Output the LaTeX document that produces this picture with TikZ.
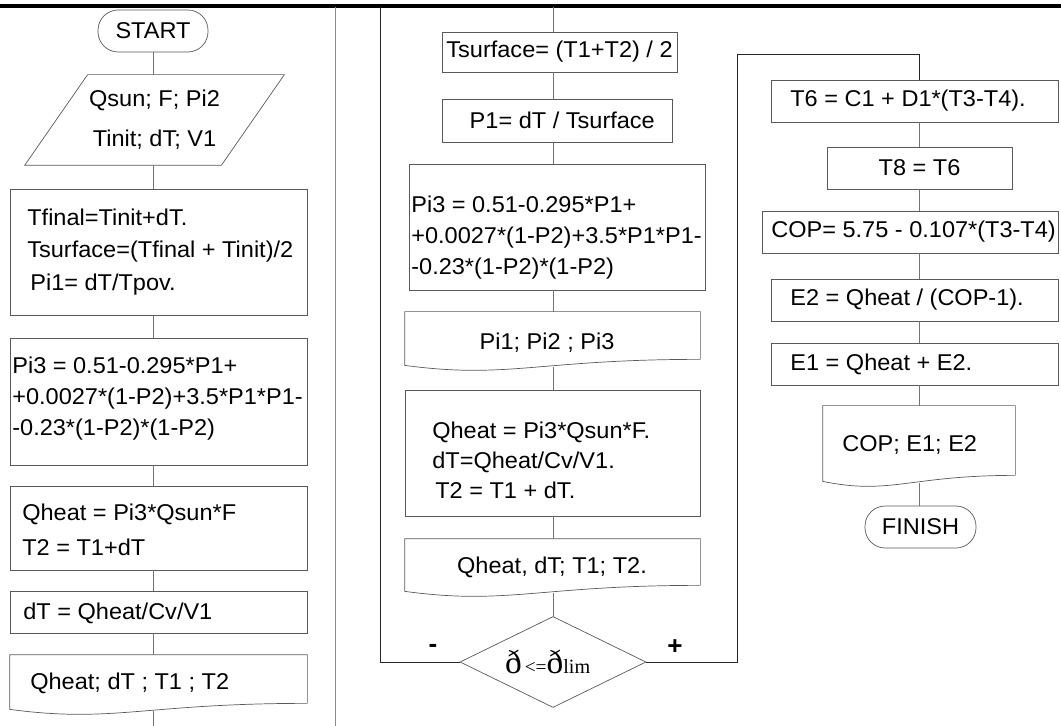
\documentclass[tikz,border=0pt]{standalone}
\usepackage{fontspec}
\setmainfont{Liberation Sans}[FakeStretch=1.03]
\newfontfamily\serfont{Liberation Serif}
\usetikzlibrary{calc}

\tikzset{
  sz/.style 2 args={minimum width=#1*0.2mm, minimum height=#2*0.2mm},
  outl/.style={draw=black!65},
  blk/.style={outl, inner sep=0pt},
  term/.style={blk, rounded corners=11.5pt},
  txt/.style={inner sep=0pt, font=\fontsize{13}{#1}\selectfont, align=left},
  txt/.default=17.5pt,
  flow/.style={black!55},
  loopline/.style={black!85},
}

\begin{document}
\begin{tikzpicture}[x=0.2mm, y=-0.2mm, font=\fontsize{13}{17.5}\selectfont]
	\useasboundingbox (0,0) rectangle (1061,726);
	\draw[line width=2pt] (0,6) -- (1061,6);
	\draw[black!45] (335,7) -- (335,726);
	
	\coordinate (ca) at (153,0);
	\coordinate (cb) at (553,0);
	\coordinate (cc) at (919,0);
	
	% left column
	\node[term, sz={110}{42}] (start) at (153,31) {START};
	\node[sz={196}{90}, inner sep=0pt, align=center, font=\fontsize{13}{22.7}\selectfont] (inp) at (154.5,120) {Qsun; F; Pi2\\Tinit; dT; V1};
	\draw[outl] ($(inp.south west)+(-31.5,0)$) -- ($(inp.north west)+(31.5,0)$) -- ($(inp.north east)+(31.5,0)$) -- ($(inp.south east)+(-31.5,0)$) -- cycle;
	
	\node[blk, sz={297}{126}] (calc1) at (158.5,252) {};
	\node[txt=18.7pt, anchor=west] (calc1t) at (27,252) {Tfinal=Tinit+dT.\\Tsurface=(Tfinal + Tinit)/2\\\hspace{1.7pt}Pi1= dT/Tpov.};
	
	\node[blk, sz={297}{127}] (pi3a) at (158.5,401.5) {};
	\node[txt=17.6pt, anchor=west] (pi3at) at (12,399) {Pi3 = 0.51-0.295*P1+\\+0.0027*(1-P2)+3.5*P1*P1-\\-0.23*(1-P2)*(1-P2)};
	
	\node[blk, sz={297}{84}] (qha) at (158.5,528) {};
	\node[txt=19.8pt, anchor=west] (qhat) at (22,530) {Qheat = Pi3*Qsun*F\\T2 = T1+dT};
	
	\node[blk, sz={297}{42}] (dta) at (158.5,612) {};
	\node[txt, anchor=west] (dtat) at (23,613) {dT = Qheat/Cv/V1};
	
	\node[sz={297}{48}, inner sep=0pt] (outa) at (158.5,679) {};
	\node[txt, anchor=west] (outat) at (30,683) {Qheat; dT ; T1 ; T2};
	\coordinate (enda) at (153,726);
	
	% middle column
	\coordinate (topb) at (553,7);
	\node[blk, sz={235}{40}] (ts) at (559.5,52) {Tsurface= (T1+T2) / 2};
	\node[blk, sz={230}{43}] (p1) at (557,120.5) {\hspace{6pt}P1= dT / Tsurface};
	
	\node[blk, sz={296}{126}] (pi3b) at (557,227) {};
	\node[txt=17.6pt, anchor=west] (pi3bt) at (411,238) {Pi3 = 0.51-0.295*P1+\\+0.0027*(1-P2)+3.5*P1*P1-\\-0.23*(1-P2)*(1-P2)};
	
	\node[sz={295}{47}, inner sep=0pt] (outb) at (552.5,335.5) {};
	\node[txt] (outbt) at (547,343) {Pi1; Pi2 ; Pi3};
	
	\node[blk, sz={295}{126}] (qhb) at (552.5,453) {};
	\node[txt=17pt, anchor=west] (qhbt) at (432,460) {Qheat = Pi3*Qsun*F.\\dT=Qheat/Cv/V1.\\\hspace{1.7pt}T2 = T1 + dT.};
	
	\node[sz={295}{46}, inner sep=0pt] (outc) at (552.5,562) {};
	\node[txt] (outct) at (552,567) {Qheat, dT; T1; T2.};
	
	\node[sz={185}{90}, inner sep=0pt, font=\serfont] (dec) at (553,662)
	{\hspace{-6pt}{\fontsize{19}{19}\selectfont ð}\,{\fontsize{11}{11}\selectfont <=}{\fontsize{19}{19}\selectfont ð}{\fontsize{11.5}{11.5}\selectfont lim}};
	\draw[outl] (dec.north) -- (dec.east) -- (dec.south) -- (dec.west) -- cycle;
	\node[font=\bfseries\Large] (minus) at (433,648) {-};
	\node[font=\bfseries\Large] (plus) at (675,647) {+};
	
	\coordinate (loopl) at (380,7);
	\coordinate (loopr) at (737,54);
	
	% right column
	\node[blk, sz={287}{42}] (t6) at (914.5,101) {};
	\node[txt, anchor=west] (t6t) at (790,101) {T6 = C1 + D1*(T3-T4).};
	\node[blk, sz={185}{42}] (t8) at (919.5,168) {T8 = T6};
	\node[blk, sz={296}{42}] (cop) at (910,232) {};
	\node[txt, anchor=west] (copt) at (771,232) {COP= 5.75 - 0.107*(T3-T4)};
	\node[blk, sz={287}{42}] (e2) at (914.5,300) {};
	\node[txt, anchor=west] (e2t) at (790,300) {E2 = Qheat / (COP-1).};
	\node[blk, sz={287}{42}] (e1) at (914.5,364) {};
	\node[txt, anchor=west] (e1t) at (790,364) {E1 = Qheat + E2.};
	\node[sz={192}{69}, inner sep=0pt] (outd) at (919,440.5) {};
	\node[txt, anchor=west] (outdt) at (842,445) {COP; E1; E2};
	\node[term, sz={111}{42}] (finish) at (920.5,527) {FINISH};
	
	% document shapes (wavy bottom)
	\foreach \d in {outa,outb,outc,outd}
		\draw[outl] (\d.south east) -- (\d.north east) -- (\d.north west) -- ($(\d.south west)+(0,6)$)
		.. controls ($(\d.south west)!0.35!(\d.south east)+(0,20)$) and ($(\d.south west)!0.45!(\d.south east)$) .. (\d.south east);
	
	% left flow
	\draw[flow] (start.south) -- (inp.north -| ca);
	\draw[flow] (inp.south -| ca) -- (calc1.north -| ca);
	\draw[flow] (calc1.south -| ca) -- (pi3a.north -| ca);
	\draw[flow] (pi3a.south -| ca) -- (qha.north -| ca);
	\draw[flow] (qha.south -| ca) -- (dta.north -| ca);
	\draw[flow] (dta.south -| ca) -- (outa.north -| ca);
	\draw[flow] (outa.south -| ca) ++(0,8) -- (enda);
	
	% middle flow
	\draw[flow] (topb) -- (ts.north -| cb);
	\draw[flow] (ts.south -| cb) -- (p1.north -| cb);
	\draw[flow] (p1.south -| cb) -- (pi3b.north -| cb);
	\draw[flow] (pi3b.south -| cb) -- (outb.north -| cb);
	\draw[flow] (outb.south -| cb) ++(0,8) -- (qhb.north -| cb);
	\draw[flow] (qhb.south -| cb) -- (outc.north -| cb);
	\draw[flow] (outc.south -| cb) ++(0,8) -- (dec.north);
	
	% branches
	\draw[loopline] (dec.west) -- (dec.west -| loopl) -- (loopl);
	\draw[loopline] (dec.east) -| (loopr) -| (t6.north -| cc);
	
	% right flow
	\draw[flow] (t6.south -| cc) -- (t8.north -| cc);
	\draw[flow] (t8.south -| cc) -- (cop.north -| cc);
	\draw[flow] (cop.south -| cc) -- (e2.north -| cc);
	\draw[flow] (e2.south -| cc) -- (e1.north -| cc);
	\draw[flow] (e1.south -| cc) -- (outd.north -| cc);
	\draw[flow] (outd.south -| cc) ++(0,8) -- (finish.north -| cc);
	
\end{tikzpicture}
\end{document}
